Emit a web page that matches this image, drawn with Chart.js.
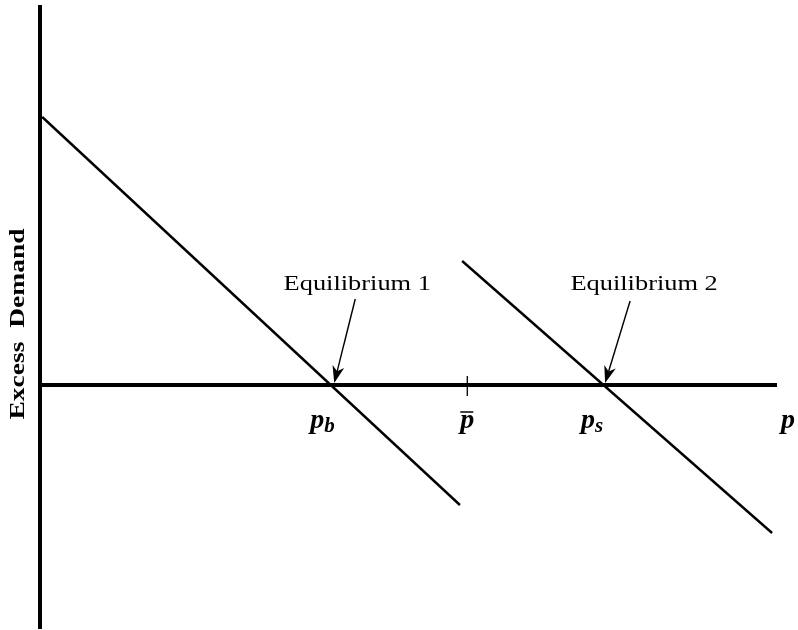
<!DOCTYPE html>
<html>
<head>
<meta charset="utf-8">
<script src="https://cdn.jsdelivr.net/npm/chart.js@4.4.1/dist/chart.umd.min.js"></script>
<style>
  body { margin: 0; background: #fff; }
  #wrap { width: 798px; height: 630px; }
</style>
</head>
<body>
<div id="wrap"><canvas id="excessChart" width="798" height="630"></canvas></div>
<script>
// two excess demand schedules (price on x, excess demand on y)
const curve1Price = [0.3, 56.9];
const curve1Demand = [6.7, -3.0];
const curve2Price = [57.2, 99.2];
const curve2Demand = [3.1, -3.7];

// marked prices on the horizontal axis
const equilibriumPrices = [39.6, 76.3];
const equilibriumLabels = ["Equilibrium 1", "Equilibrium 2"];
const tickPrices = [39.6, 57.9, 76.3];
const tickNames = ["b", "bar", "s"];

const SERIF = "'Times New Roman', 'Liberation Serif', Times, serif";

function toPoints(xs, ys) {
  return xs.map((x, i) => ({ x: x, y: ys[i] }));
}

function stretchedText(ctx, text, x, y, font, sx) {
  ctx.save();
  ctx.translate(x, y);
  ctx.scale(sx, 1);
  ctx.font = font;
  ctx.textAlign = "center";
  ctx.textBaseline = "alphabetic";
  ctx.fillText(text, 0, 0);
  ctx.restore();
}

function arrow(ctx, x1, y1, x2, y2) {
  const ang = Math.atan2(y2 - y1, x2 - x1);
  const len = 17, half = 6;
  const bx = x2 - len * Math.cos(ang), by = y2 - len * Math.sin(ang);
  const nx = bx + 5 * Math.cos(ang), ny = by + 5 * Math.sin(ang);
  ctx.beginPath();
  ctx.moveTo(x1, y1);
  ctx.lineTo(nx, ny);
  ctx.lineWidth = 1.4;
  ctx.stroke();
  ctx.beginPath();
  ctx.moveTo(x2, y2);
  ctx.lineTo(bx - half * Math.sin(ang), by + half * Math.cos(ang));
  ctx.lineTo(nx, ny);
  ctx.lineTo(bx + half * Math.sin(ang), by - half * Math.cos(ang));
  ctx.closePath();
  ctx.fill();
}

const axesPlugin = {
  id: "axesPlugin",
  beforeDatasetsDraw(chart) {
    const { ctx, chartArea, scales } = chart;
    const x0 = scales.x.getPixelForValue(0);
    const y0 = scales.y.getPixelForValue(0);
    ctx.save();
    ctx.strokeStyle = "#000";
    ctx.lineWidth = 4;
    ctx.beginPath();
    ctx.moveTo(x0, chartArea.top);
    ctx.lineTo(x0, chartArea.bottom);
    ctx.moveTo(x0, y0);
    ctx.lineTo(chartArea.right - 1, y0);
    ctx.stroke();

    // small tick at p-bar
    const tx = scales.x.getPixelForValue(tickPrices[1]);
    ctx.lineWidth = 1.3;
    ctx.beginPath();
    ctx.moveTo(tx, y0 - 9);
    ctx.lineTo(tx, y0 + 11);
    ctx.stroke();
    ctx.restore();
  },
  afterDatasetsDraw(chart) {
    const { ctx, chartArea, scales } = chart;
    const y0 = scales.y.getPixelForValue(0);
    ctx.save();
    ctx.fillStyle = "#000";
    ctx.strokeStyle = "#000";

    // y axis title
    ctx.save();
    ctx.translate(18, 324);
    ctx.rotate(-Math.PI / 2);
    ctx.scale(1.25, 1);
    ctx.font = "bold 22px " + SERIF;
    ctx.textAlign = "center";
    ctx.textBaseline = "middle";
    ctx.fillText("Excess  Demand", 0, 0);
    ctx.restore();

    // equilibrium annotations
    const tails = [[23, -86, 25, -95], [27, -84, 41, -95]];
    equilibriumPrices.forEach((p, i) => {
      const px = scales.x.getPixelForValue(p);
      const t = tails[i];
      arrow(ctx, px + t[0], y0 + t[1], px + 2, y0 - 2);
      stretchedText(ctx, equilibriumLabels[i], px + t[2], y0 + t[3], "22px " + SERIF, 1.2);
    });

    // price labels under the axis
    const pFont = "italic bold 28px " + SERIF;
    const subFont = "italic bold 21px " + SERIF;
    const base = y0 + 43;
    tickPrices.forEach((p, i) => {
      const px = scales.x.getPixelForValue(p);
      ctx.textBaseline = "alphabetic";
      if (tickNames[i] === "bar") {
        ctx.font = pFont;
        ctx.textAlign = "center";
        ctx.fillText("p", px, base);
        ctx.lineWidth = 1.5;
        ctx.beginPath();
        ctx.moveTo(px - 7, y0 + 27);
        ctx.lineTo(px + 6, y0 + 27);
        ctx.stroke();
      } else {
        ctx.font = pFont;
        ctx.textAlign = "left";
        const left = px - 22;
        ctx.fillText("p", left, base);
        const w = ctx.measureText("p").width;
        ctx.font = subFont;
        ctx.fillText(tickNames[i], left + w, base + 4);
      }
    });
    ctx.font = pFont;
    ctx.textAlign = "left";
    ctx.fillText("p", chartArea.right + 3, base);
    ctx.restore();
  }
};

const ctx = document.getElementById("excessChart").getContext("2d");

const excessChart = new Chart(ctx, {
  type: "scatter",
  data: {
    datasets: [
      {
        label: "Excess demand 1",
        data: toPoints(curve1Price, curve1Demand),
        showLine: true,
        borderColor: "#000",
        borderWidth: 2.4,
        pointRadius: 0,
        fill: false
      },
      {
        label: "Excess demand 2",
        data: toPoints(curve2Price, curve2Demand),
        showLine: true,
        borderColor: "#000",
        borderWidth: 2.4,
        pointRadius: 0,
        fill: false
      }
    ]
  },
  options: {
    responsive: false,
    animation: false,
    layout: { padding: { left: 40, right: 20, top: 5, bottom: 1 } },
    scales: {
      x: { type: "linear", min: 0, max: 100, display: false },
      y: { type: "linear", min: -6.1, max: 9.5, display: false }
    },
    plugins: {
      legend: { display: false },
      tooltip: { enabled: false }
    }
  },
  plugins: [axesPlugin]
});
</script>
</body>
</html>
